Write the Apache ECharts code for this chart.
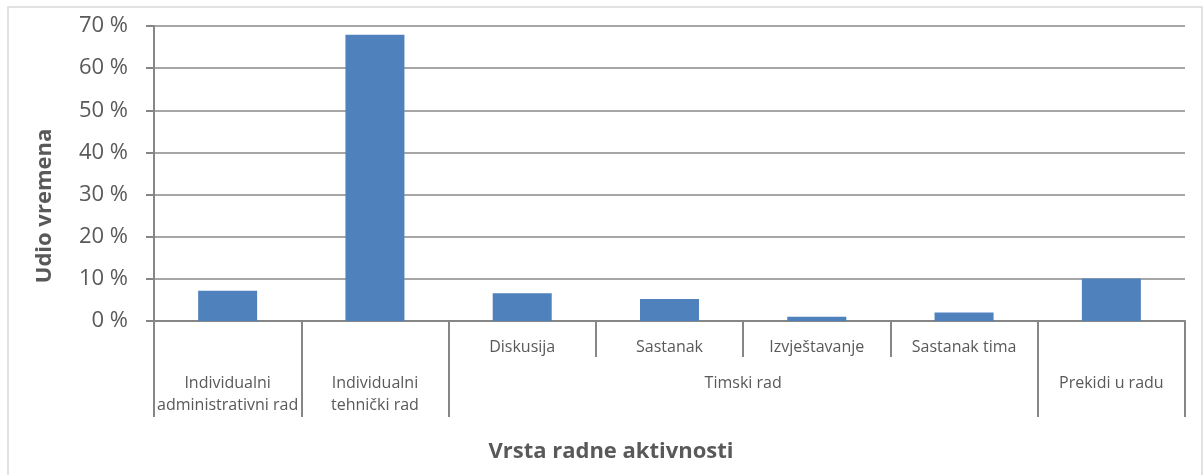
<!DOCTYPE html>
<html>
<head>
<meta charset="utf-8">
<script src="https://cdn.jsdelivr.net/npm/echarts@6/dist/echarts.min.js"></script>
<style>html,body{margin:0;padding:0;background:#fff;}#c{width:1203px;height:475px;}</style>
</head>
<body>
<div id="c"></div>
<script>
const categories = ['Individualni administrativni rad', 'Individualni tehnički rad', 'Diskusija', 'Sastanak', 'Izvještavanje', 'Sastanak tima', 'Prekidi u radu'];
const subLabels = ['', '', 'Diskusija', 'Sastanak', 'Izvještavanje', 'Sastanak tima', ''];
const groups = ['Individualni\nadministrativni rad', 'Individualni\ntehnički rad', 'Timski rad', 'Timski rad', 'Timski rad', 'Timski rad', 'Prekidi u radu'];
const values = [7.2, 67.9, 6.6, 5.2, 1.0, 2.0, 10.1];
const yAxisTitle = 'Udio vremena';
const xAxisTitle = 'Vrsta radne aktivnosti';

// Build a half-step category axis (boundaryGap false) for the group level.
const n = categories.length;
const groupSlots = new Array(2 * n + 1).fill('');
const groupTicks = new Array(2 * n + 1).fill(false);
let start = 0;
for (let i = 1; i <= n; i++) {
  if (i === n || groups[i] !== groups[start]) {
    groupSlots[start + i] = groups[start]; // midpoint in half-steps
    groupTicks[2 * start] = true;
    groupTicks[2 * i] = true;
    start = i;
  }
}
const slotData = groupSlots.map((v, i) => ({ value: 's' + i }));

const FONT = '"Open Sans", sans-serif';
const GRAY = '#868686';
const TXT = '#595959';

const chart = echarts.init(document.getElementById('c'), null, { renderer: 'canvas' });
chart.setOption({
  animation: false,
  backgroundColor: '#ffffff',
  grid: { left: 154, right: 18, top: 26, bottom: 154, containLabel: false },
  xAxis: [
    {
      type: 'category',
      data: categories,
      position: 'bottom',
      axisLine: { show: true, lineStyle: { color: GRAY, width: 2 } },
      axisTick: { show: true, length: 36, interval: 0, lineStyle: { color: GRAY, width: 2 } },
      axisLabel: {
        interval: 0, margin: 15, fontFamily: FONT, fontSize: 16, color: TXT, lineHeight: 22,
        formatter: (v, i) => subLabels[i]
      },
      splitLine: { show: false }
    },
    {
      type: 'category',
      data: slotData,
      boundaryGap: false,
      position: 'bottom',
      axisLine: { show: false },
      axisTick: { show: true, length: 96, interval: (i) => groupTicks[i], lineStyle: { color: GRAY, width: 2 } },
      axisLabel: {
        interval: 0, margin: 51, fontFamily: FONT, fontSize: 16, color: TXT, lineHeight: 22,
        formatter: (v, i) => groupSlots[i]
      },
      splitLine: { show: false }
    }
  ],
  yAxis: {
    type: 'value',
    min: 0, max: 70, interval: 10,
    axisLine: { show: true, lineStyle: { color: GRAY, width: 2 } },
    axisTick: { show: true, length: 8, lineStyle: { color: GRAY, width: 2 } },
    axisLabel: { formatter: '{value} %', fontFamily: FONT, fontSize: 22, color: TXT, margin: 26 },
    splitLine: { show: true, lineStyle: { color: '#a6a6a6', width: 2 } }
  },
  series: [{
    type: 'bar',
    xAxisIndex: 0,
    data: values,
    barWidth: 59,
    itemStyle: { color: '#4f81bd' }
  }],
  graphic: [
    { type: 'rect', shape: { x: 8, y: 7, width: 1194, height: 480 }, style: { fill: 'none', stroke: '#d9d9d9', lineWidth: 1.5 }, silent: true },
    { type: 'text', x: 611, y: 452, style: { text: xAxisTitle, fontFamily: FONT, fontSize: 22, fontWeight: 'bold', fill: TXT, textAlign: 'center', textVerticalAlign: 'middle' } },
    { type: 'text', x: 45, y: 206, rotation: Math.PI / 2, style: { text: yAxisTitle, fontFamily: FONT, fontSize: 22, fontWeight: 'bold', fill: TXT, textAlign: 'center', textVerticalAlign: 'middle' } }
  ]
});
</script>
</body>
</html>
